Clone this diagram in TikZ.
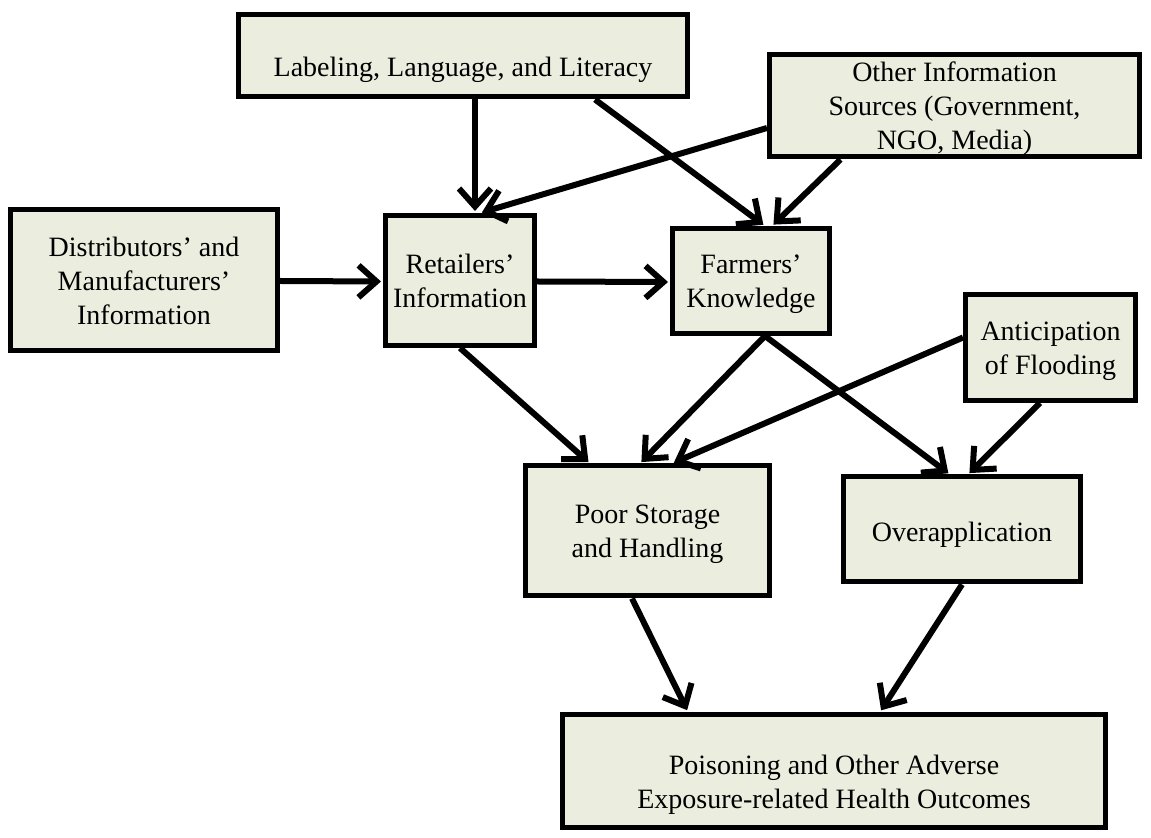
\documentclass[tikz,border=0pt]{standalone}
\usepackage{fontspec}
\setmainfont{Liberation Serif}
\usetikzlibrary{arrows.meta,calc}
\definecolor{boxfill}{HTML}{EBEDDF}
\newcommand\boxlines[2]{\raisebox{-#1}[\height][\depth]{\begin{tabular}{@{}c@{}}#2\end{tabular}}}
\tikzset{
  box/.style={draw=black, fill=boxfill, line width=2.5pt, inner sep=0pt, align=center,
    font=\fontsize{14}{17}\selectfont},
  conn/.style={line width=3pt, -{Straight Barb[length=9pt,width=16pt]}, shorten >=1pt}
}
\begin{document}
\begin{tikzpicture}[x=0.5pt,y=-0.5pt]
\useasboundingbox (0,0) rectangle (1151,838);
\node[box, minimum width=224.5pt, minimum height=41pt] (lab) at (463,56) {\boxlines{7pt}{Labeling, Language, and Literacy}};
\node[box, minimum width=185pt, minimum height=49.5pt] (oth) at (954.5,106) {\boxlines{1.5pt}{Other Information\\Sources (Government,\\NGO, Media)}};
\node[box, minimum width=133.5pt, minimum height=70.5pt] (dis) at (144,280) {\boxlines{2pt}{Distributors' and\\Manufacturers'\\Information}};
\node[box, minimum width=74.5pt, minimum height=65pt] (ret) at (460,280.5) {\boxlines{1.5pt}{Retailers'\\Information}};
\node[box, minimum width=78.5pt, minimum height=52.5pt] (far) at (751,281) {\boxlines{1.5pt}{Farmers'\\Knowledge}};
\node[box, minimum width=85pt, minimum height=53pt] (ant) at (1050.5,347.5) {\boxlines{1.5pt}{Anticipation\\of Flooding}};
\node[box, minimum width=122pt, minimum height=65pt] (poor) at (647.5,531) {\boxlines{1.5pt}{Poor Storage\\and Handling}};
\node[box, minimum width=118.5pt, minimum height=52.5pt] (over) at (962,529.5) {\boxlines{2.5pt}{Overapplication}};
\node[box, minimum width=271.5pt, minimum height=56.5pt] (pois) at (834,771) {\boxlines{7pt}{Poisoning and Other Adverse\\Exposure-related Health Outcomes}};

\draw[conn] ($(lab.south)+(12,0)$) -- ($(ret.north)+(15,0)$);
\draw[conn] ($(lab.south)+(132,0)$) -- ($(far.north)+(14,0)$);
\draw[conn] ($(oth.south)+(-114,0)$) -- ($(far.north)+(21,0)$);
\draw[conn] ($(oth.west)+(0,22)$) -- ($(ret.north)+(20,0)$);
\draw[conn] ($(dis.east)+(0,1)$) -- ($(ret.west)+(0,1)$);
\draw[conn] ($(ret.east)+(0,1)$) -- ($(far.west)+(0,1)$);
\draw[conn] (ret.south) -- ($(poor.north)+(-57.5,0)$);
\draw[conn] ($(far.south)+(14,0)$) -- ($(poor.north)+(-7.5,0)$);
\draw[conn] ($(ant.west)+(0,-10)$) -- ($(poor.north)+(24.5,0)$);
\draw[conn] ($(far.south)+(14,0)$) -- ($(over.north)+(-12,0)$);
\draw[conn] ($(ant.south)+(-10.5,0)$) -- ($(over.north)+(6,0)$);
\draw[conn] ($(poor.south)+(-15.5,0)$) -- ($(pois.north)+(-146,0)$);
\draw[conn] (over.south) -- ($(pois.north)+(46,0)$);
\end{tikzpicture}
\end{document}
